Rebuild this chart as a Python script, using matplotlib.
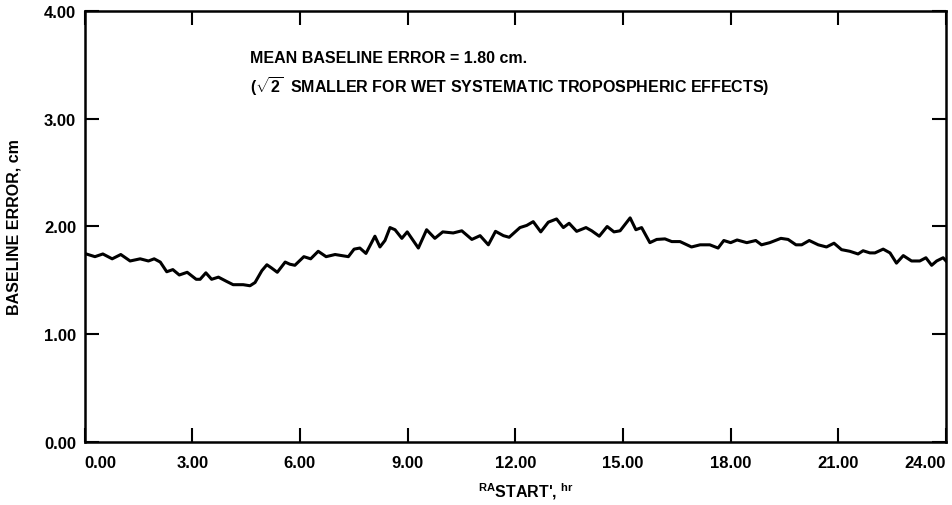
import matplotlib
matplotlib.use("Agg")
import matplotlib.pyplot as plt

FONT = "Liberation Sans"
plt.rcParams['font.family'] = [FONT, 'DejaVu Sans']
plt.rcParams['mathtext.fontset'] = 'custom'
plt.rcParams['mathtext.rm'] = FONT
plt.rcParams['mathtext.bf'] = FONT + ':bold'

ra_hr = [0.00, 0.29, 0.51, 0.77, 1.01, 1.27, 1.55, 1.78, 1.94, 2.11, 2.29, 2.46, 2.64, 2.86,
         3.11, 3.22, 3.38, 3.54, 3.73, 3.96, 4.14, 4.42, 4.61, 4.75, 4.94, 5.08, 5.21, 5.37,
         5.59, 5.72, 5.86, 6.11, 6.30, 6.51, 6.73, 6.98, 7.35, 7.51, 7.67, 7.84, 8.09, 8.23,
         8.37, 8.51, 8.65, 8.84, 8.99, 9.30, 9.53, 9.76, 9.98, 10.27, 10.51, 10.79, 11.02,
         11.25, 11.45, 11.67, 11.83, 12.13, 12.32, 12.50, 12.71, 12.92, 13.15, 13.34, 13.50,
         13.71, 13.97, 14.13, 14.34, 14.56, 14.75, 14.92, 15.20, 15.36, 15.52, 15.75, 15.94,
         16.17, 16.36, 16.59, 16.91, 17.15, 17.42, 17.65, 17.81, 18.00, 18.18, 18.45, 18.70,
         18.86, 19.09, 19.40, 19.60, 19.82, 19.98, 20.19, 20.44, 20.67, 20.88, 21.09, 21.32,
         21.55, 21.69, 21.88, 22.02, 22.25, 22.44, 22.62, 22.81, 23.04, 23.27, 23.44, 23.60,
         23.74, 23.92, 24.00]
baseline_err = [1.75, 1.72, 1.745, 1.70, 1.74, 1.68, 1.70, 1.68, 1.70, 1.67, 1.58, 1.60, 1.55, 1.575,
                1.51, 1.51, 1.57, 1.51, 1.53, 1.49, 1.46, 1.46, 1.45, 1.48, 1.59, 1.645, 1.615, 1.575,
                1.67, 1.65, 1.64, 1.72, 1.70, 1.77, 1.72, 1.74, 1.72, 1.79, 1.80, 1.75, 1.91, 1.81,
                1.87, 1.99, 1.97, 1.89, 1.95, 1.80, 1.97, 1.89, 1.95, 1.94, 1.96, 1.88, 1.915,
                1.83, 1.955, 1.915, 1.90, 1.99, 2.01, 2.045, 1.95, 2.04, 2.07, 1.99, 2.03,
                1.955, 1.99, 1.96, 1.91, 2.00, 1.95, 1.96, 2.08, 1.97, 1.99, 1.85, 1.88,
                1.885, 1.86, 1.86, 1.81, 1.83, 1.83, 1.80, 1.87, 1.85, 1.875, 1.85, 1.87,
                1.83, 1.85, 1.89, 1.88, 1.83, 1.83, 1.87, 1.83, 1.81, 1.845, 1.785, 1.77,
                1.745, 1.775, 1.755, 1.755, 1.79, 1.755, 1.66, 1.73, 1.68, 1.68, 1.71, 1.64,
                1.68, 1.71, 1.68]

x_ticks = [0, 3, 6, 9, 12, 15, 18, 21, 24]
x_tick_labels = ["0.00", "3.00", "6.00", "9.00", "12.00", "15.00", "18.00", "21.00", "24.00"]
y_ticks = [0, 1, 2, 3, 4]
y_tick_labels = ["0.00", "1.00", "2.00", "3.00", "4.00"]

fig = plt.figure(figsize=(9.52, 5.06), dpi=100)
ax = fig.add_axes([0.0888, 0.1245, 0.9049, 0.8518])
ax.plot(ra_hr, baseline_err, color='black', lw=2.2, solid_joinstyle='round')
ax.set_xlim(0, 24)
ax.set_ylim(0, 4)
ax.set_xticks(x_ticks)
ax.set_xticklabels(x_tick_labels)
ax.set_yticks(y_ticks)
ax.set_yticklabels(y_tick_labels)
ax.tick_params(direction='in', length=10, width=1.5, top=True, right=True, labelsize=12)
ax.tick_params(axis='x', pad=9)
ax.tick_params(axis='y', pad=6)
for lab in ax.get_xticklabels() + ax.get_yticklabels():
    lab.set_fontweight('bold')
xl = ax.get_xticklabels()
xl[0].set_horizontalalignment('left')
xl[-1].set_horizontalalignment('right')
for sp in ax.spines.values():
    sp.set_linewidth(1.8)

ax.set_ylabel("BASELINE ERROR, cm", fontsize=11.5, fontweight='bold', labelpad=16)
ax.set_xlabel(r"$^{\mathbf{RA}}$START', $^{\mathbf{hr}}$", fontsize=11.5, fontweight='bold', labelpad=8)
ax.xaxis.label.set_x(0.512)

ax.text(0.192, 0.891, "MEAN BASELINE ERROR = 1.80 cm.", transform=ax.transAxes,
        fontsize=11.5, fontweight='bold', va='center', ha='left')
ax.text(0.192, 0.826, r"($\sqrt{\mathbf{2}}$  SMALLER FOR WET SYSTEMATIC TROPOSPHERIC EFFECTS)",
        transform=ax.transAxes, fontsize=11.5, fontweight='bold', va='center', ha='left')

fig.savefig("out.png", dpi=100)
